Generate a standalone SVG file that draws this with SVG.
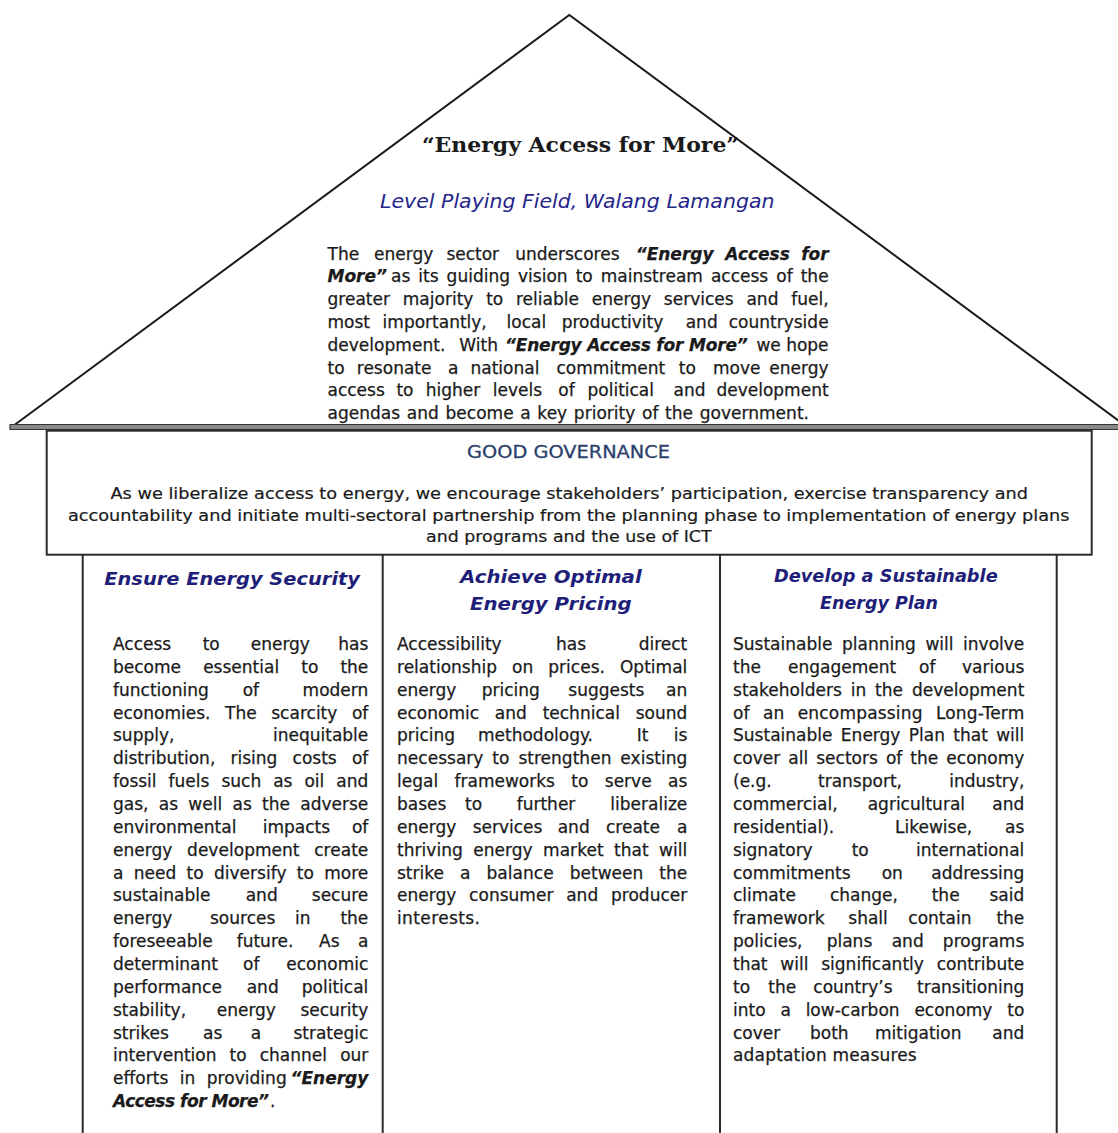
<svg xmlns="http://www.w3.org/2000/svg" width="1118" height="1133" viewBox="0 0 1118 1133">
<style>
text{font-family:"DejaVu Sans","Verdana",sans-serif;fill:#1a1a1a}
.r{font-size:17px}
.c{font-size:17px}
.r text,.c text{stroke:#1a1a1a;stroke-width:0.25}
.g{font-size:16px;stroke:#1a1a1a;stroke-width:0.2}
.bi{font-weight:bold;font-style:italic}
.e{text-anchor:end}
.hd{font-size:18px;font-weight:bold;font-style:italic;fill:#1f1f7a;stroke:none}
.c text.hd{stroke:none}
.sub{font-size:19px;font-style:italic;fill:#25258a}
.ttl{font-family:"DejaVu Serif","Liberation Serif",serif;font-size:20px;font-weight:bold;fill:#1a1a1a}
.gg{font-size:17px;fill:#2b3f6b;text-anchor:middle;stroke:#2b3f6b;stroke-width:0.3}
.ln{stroke:#2a2a2a;stroke-width:2;fill:none}
</style>
<rect width="1118" height="1133" fill="#fff"/>

<g id="roof">
<polygon points="11.7,427 569.3,15 1127,427" fill="#fff" stroke="#1a1a1a" stroke-width="2"/>
<rect x="10" y="424.5" width="1110" height="5" fill="#8a8a8a" stroke="#333" stroke-width="1"/>
<text class="ttl" x="422" y="151.7" textLength="317" lengthAdjust="spacingAndGlyphs">“Energy Access for More”</text>
<text class="sub" x="380" y="208" textLength="394.5" lengthAdjust="spacingAndGlyphs">Level Playing Field, Walang Lamangan</text>
<g class="r">
<text x="327.5" y="259.5">The</text><text x="374" y="259.5">energy</text><text x="446.4" y="259.5">sector</text><text x="515.2" y="259.5">underscores</text><text class="bi" x="635.7" y="259.5">“Energy</text><text class="bi" x="725.3" y="259.5">Access</text><text class="bi e" x="828.6" y="259.5">for</text>
<text class="bi" x="327.5" y="282.3">More”</text><text x="391" y="282.3" style="word-spacing:2.6px" textLength="437.6">as its guiding vision to mainstream access of the</text>
<text x="327.5" y="305.1" style="word-spacing:7.3px" textLength="501.1">greater majority to reliable energy services and fuel,</text>
<text x="327.5" y="327.9">most</text><text x="382.6" y="327.9">importantly,</text><text x="506.6" y="327.9">local</text><text x="561.7" y="327.9">productivity</text><text x="685.7" y="327.9">and</text><text class="e" x="828.6" y="327.9">countryside</text>
<text x="327.5" y="350.7" style="word-spacing:8.6px" textLength="170.5">development. With</text><text class="bi" x="505" y="350.7" textLength="242.7">“Energy Access for More”</text><text class="e" x="828.6" y="350.7">we hope</text>
<text x="327.5" y="373.5">to</text><text x="356.8" y="373.5">resonate</text><text x="448" y="373.5">a</text><text x="470.5" y="373.5">national</text><text x="556.5" y="373.5">commitment</text><text x="678.8" y="373.5">to</text><text x="713" y="373.5">move</text><text class="e" x="828.6" y="373.5">energy</text>
<text x="327.5" y="396.3">access</text><text x="396.4" y="396.3">to</text><text x="425.7" y="396.3">higher</text><text x="492.8" y="396.3">levels</text><text x="558.3" y="396.3">of</text><text x="587.5" y="396.3">political</text><text x="673.6" y="396.3">and</text><text class="e" x="828.6" y="396.3">development</text>
<text x="327.5" y="419.1" style="word-spacing:1.2px" textLength="481.5">agendas and become a key priority of the government.</text>
</g>
</g>

<g id="governance">
<rect x="46.7" y="430.7" width="1045" height="124" fill="#fff" stroke="#2a2a2a" stroke-width="2"/>
<text class="gg" x="568.5" y="458" textLength="203" lengthAdjust="spacingAndGlyphs">GOOD GOVERNANCE</text>
<text class="g" x="110.5" y="499" textLength="917.5" lengthAdjust="spacingAndGlyphs">As we liberalize access to energy, we encourage stakeholders’ participation, exercise transparency and</text>
<text class="g" x="68" y="520.7" textLength="1001.5" lengthAdjust="spacingAndGlyphs">accountability and initiate multi-sectoral partnership from the planning phase to implementation of energy plans</text>
<text class="g" x="426" y="541.7" textLength="285.6" lengthAdjust="spacingAndGlyphs">and programs and the use of ICT</text>
</g>

<g id="pillar-lines">
<line class="ln" x1="82.7" y1="555" x2="82.7" y2="1133"/>
<line class="ln" x1="382.7" y1="555" x2="382.7" y2="1133"/>
<line class="ln" x1="720" y1="555" x2="720" y2="1133"/>
<line class="ln" x1="1056.7" y1="555" x2="1056.7" y2="1133"/>
</g>

<g id="col-security" class="c">
<text class="hd" x="104.3" y="585" textLength="255.7" lengthAdjust="spacingAndGlyphs">Ensure Energy Security</text>
<text x="113" y="650">Access</text><text x="202.7" y="650">to</text><text x="250.7" y="650">energy</text><text class="e" x="368.3" y="650">has</text>
<text x="113" y="672.9" style="word-spacing:16.7px" textLength="255.3">become essential to the</text>
<text x="113" y="695.7">functioning</text><text x="242.7" y="695.7">of</text><text class="e" x="368.3" y="695.7">modern</text>
<text x="113" y="718.6" style="word-spacing:9.1px" textLength="255.3">economies. The scarcity of</text>
<text x="113" y="741.4">supply,</text><text class="e" x="368.3" y="741.4">inequitable</text>
<text x="113" y="764.3" style="word-spacing:9.8px" textLength="255.3">distribution, rising costs of</text>
<text x="113" y="787.1" style="word-spacing:6.6px" textLength="255.3">fossil fuels such as oil and</text>
<text x="113" y="810" style="word-spacing:4.9px" textLength="255.3">gas, as well as the adverse</text>
<text x="113" y="832.8">environmental</text><text x="262.7" y="832.8">impacts</text><text class="e" x="368.3" y="832.8">of</text>
<text x="113" y="855.7" style="word-spacing:9.2px" textLength="255.3">energy development create</text>
<text x="113" y="878.5" style="word-spacing:4.8px" textLength="255.3">a need to diversify to more</text>
<text x="113" y="901.4">sustainable</text><text x="245.7" y="901.4">and</text><text class="e" x="368.3" y="901.4">secure</text>
<text x="113" y="924.2">energy</text><text x="210" y="924.2">sources</text><text x="295" y="924.2">in</text><text class="e" x="368.3" y="924.2">the</text>
<text x="113" y="947.1">foreseeable</text><text x="236.7" y="947.1">future.</text><text x="319" y="947.1">As</text><text class="e" x="368.3" y="947.1">a</text>
<text x="113" y="969.9">determinant</text><text x="243" y="969.9">of</text><text class="e" x="368.3" y="969.9">economic</text>
<text x="113" y="992.8">performance</text><text x="246.7" y="992.8">and</text><text class="e" x="368.3" y="992.8">political</text>
<text x="113" y="1015.6">stability,</text><text x="216.7" y="1015.6">energy</text><text class="e" x="368.3" y="1015.6">security</text>
<text x="113" y="1038.5">strikes</text><text x="203" y="1038.5">as</text><text x="250.7" y="1038.5">a</text><text class="e" x="368.3" y="1038.5">strategic</text>
<text x="113" y="1061.3" style="word-spacing:7.7px" textLength="255.3">intervention to channel our</text>
<text x="113" y="1084.2" style="word-spacing:6px" textLength="173.7">efforts in providing</text><text class="bi e" x="368.3" y="1084.2">“Energy</text>
<text class="bi" x="113" y="1107" textLength="156">Access for More”</text><text x="270" y="1107">.</text>
</g>

<g id="col-pricing" class="c">
<text class="hd" x="460" y="583.3" textLength="181.7" lengthAdjust="spacingAndGlyphs">Achieve Optimal</text>
<text class="hd" x="470" y="610" textLength="161.7" lengthAdjust="spacingAndGlyphs">Energy Pricing</text>
<text x="397" y="650">Accessibility</text><text x="556" y="650">has</text><text class="e" x="687.3" y="650">direct</text>
<text x="397" y="672.9" style="word-spacing:9.6px" textLength="290.3">relationship on prices. Optimal</text>
<text x="397" y="695.7">energy</text><text x="481.7" y="695.7">pricing</text><text x="568.3" y="695.7">suggests</text><text class="e" x="687.3" y="695.7">an</text>
<text x="397" y="718.6" style="word-spacing:10.4px" textLength="290.3">economic and technical sound</text>
<text x="397" y="741.4">pricing</text><text x="478" y="741.4">methodology.</text><text x="636.7" y="741.4">It</text><text class="e" x="687.3" y="741.4">is</text>
<text x="397" y="764.3" style="word-spacing:3.5px" textLength="290.3">necessary to strengthen existing</text>
<text x="397" y="787.1" style="word-spacing:11px" textLength="290.3">legal frameworks to serve as</text>
<text x="397" y="810">bases</text><text x="465" y="810">to</text><text x="516.7" y="810">further</text><text class="e" x="687.3" y="810">liberalize</text>
<text x="397" y="832.8">energy</text><text x="472.7" y="832.8">services</text><text x="557.7" y="832.8">and</text><text x="606" y="832.8">create</text><text class="e" x="687.3" y="832.8">a</text>
<text x="397" y="855.7" style="word-spacing:5px" textLength="290.3">thriving energy market that will</text>
<text x="397" y="878.5" style="word-spacing:10.6px" textLength="290.3">strike a balance between the</text>
<text x="397" y="901.4" style="word-spacing:7.3px" textLength="290.3">energy consumer and producer</text>
<text x="397" y="924.2" textLength="83">interests.</text>
</g>

<g id="col-plan" class="c">
<text class="hd" x="774" y="581.7" textLength="223.7" lengthAdjust="spacingAndGlyphs">Develop a Sustainable</text>
<text class="hd" x="820" y="609" textLength="118" lengthAdjust="spacingAndGlyphs">Energy Plan</text>
<text x="733" y="650" style="word-spacing:4.2px" textLength="291.3">Sustainable planning will involve</text>
<text x="733" y="672.9">the</text><text x="788" y="672.9">engagement</text><text x="919" y="672.9">of</text><text class="e" x="1024.3" y="672.9">various</text>
<text x="733" y="695.7" style="word-spacing:3.4px" textLength="291.3">stakeholders in the development</text>
<text x="733" y="718.6" style="word-spacing:7.6px" textLength="291.3">of an encompassing Long-Term</text>
<text x="733" y="741.4" style="word-spacing:2.9px" textLength="291.3">Sustainable Energy Plan that will</text>
<text x="733" y="764.3" style="word-spacing:2.7px" textLength="291.3">cover all sectors of the economy</text>
<text x="733" y="787.1">(e.g.</text><text x="818" y="787.1">transport,</text><text class="e" x="1024.3" y="787.1">industry,</text>
<text x="733" y="810">commercial,</text><text x="867.7" y="810">agricultural</text><text class="e" x="1024.3" y="810">and</text>
<text x="733" y="832.8">residential).</text><text x="895" y="832.8">Likewise,</text><text class="e" x="1024.3" y="832.8">as</text>
<text x="733" y="855.7">signatory</text><text x="851.7" y="855.7">to</text><text class="e" x="1024.3" y="855.7">international</text>
<text x="733" y="878.5">commitments</text><text x="881.7" y="878.5">on</text><text class="e" x="1024.3" y="878.5">addressing</text>
<text x="733" y="901.4">climate</text><text x="830" y="901.4">change,</text><text x="931.7" y="901.4">the</text><text class="e" x="1024.3" y="901.4">said</text>
<text x="733" y="924.2">framework</text><text x="848.3" y="924.2">shall</text><text x="908.3" y="924.2">contain</text><text class="e" x="1024.3" y="924.2">the</text>
<text x="733" y="947.1">policies,</text><text x="826.7" y="947.1">plans</text><text x="891.7" y="947.1">and</text><text class="e" x="1024.3" y="947.1">programs</text>
<text x="733" y="969.9" style="word-spacing:7.4px" textLength="291.3">that will significantly contribute</text>
<text x="733" y="992.8">to</text><text x="768.3" y="992.8">the</text><text x="813.3" y="992.8">country’s</text><text class="e" x="1024.3" y="992.8">transitioning</text>
<text x="733" y="1015.6" style="word-spacing:9.4px" textLength="291.3">into a low-carbon economy to</text>
<text x="733" y="1038.5">cover</text><text x="810" y="1038.5">both</text><text x="875" y="1038.5">mitigation</text><text class="e" x="1024.3" y="1038.5">and</text>
<text x="733" y="1061.3" textLength="183.7">adaptation measures</text>
</g>
</svg>
